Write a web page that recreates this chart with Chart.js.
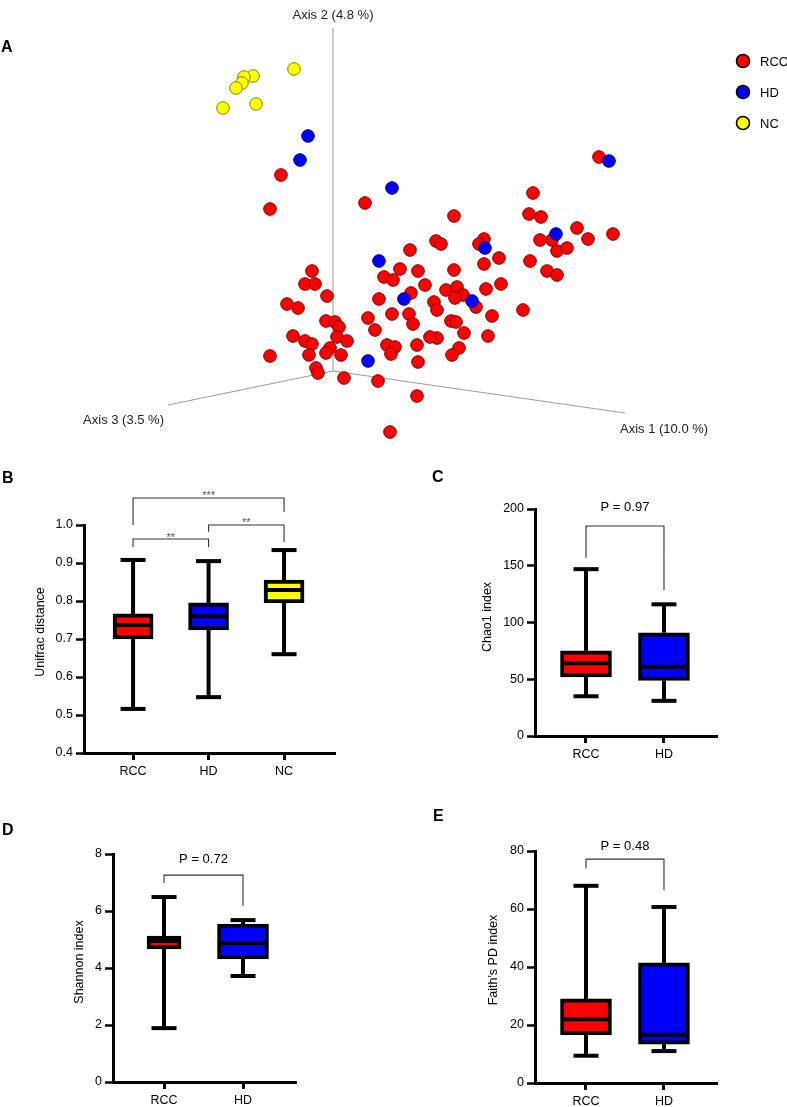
<!DOCTYPE html>
<html><head><meta charset="utf-8">
<script src="https://cdn.jsdelivr.net/npm/chart.js@4.4.0/dist/chart.umd.min.js"></script>
<style>
html,body{margin:0;padding:0;background:#fff;}
#wrap{position:relative;width:787px;height:1107px;overflow:hidden;font-family:"Liberation Sans",Arial,sans-serif;}
canvas{position:absolute;}
.lbl{position:absolute;font-weight:bold;font-size:16px;line-height:16px;color:#000;font-family:"Liberation Sans",Arial,sans-serif;}
</style></head><body>
<div id="wrap">
<canvas id="cA" width="787" height="450" style="left:0;top:0"></canvas>
<canvas id="cB" width="400" height="330" style="left:0;top:450px"></canvas>
<canvas id="cC" width="367" height="330" style="left:420px;top:450px"></canvas>
<canvas id="cD" width="400" height="327" style="left:0;top:780px"></canvas>
<canvas id="cE" width="367" height="327" style="left:420px;top:780px"></canvas>
<div class="lbl" style="left:1px;top:39px">A</div>
<div class="lbl" style="left:2px;top:470px">B</div>
<div class="lbl" style="left:432px;top:469px">C</div>
<div class="lbl" style="left:2px;top:822px">D</div>
<div class="lbl" style="left:433px;top:808px">E</div>
</div>
<script>
// ---------- Panel A: PCoA (projected coordinates) ----------
const groups = ['RCC', 'HD', 'NC'];
const rccX = [-52,-63,32,266,200,196,208,244,255,280,207,219,224,234,121,103,108,151,146,77,166,151,197,214,224,121,153,168,113,124,130,122,143,101,104,190,159,118,123,131,155,104,97,67,85,51,60,92,78,46,59,76,80,54,62,58,84,85,126,119,45,84,57,-21,-28,-18,-6,-46,-35,-7,2,6,35,42,4,14,-40,-28,-21,-24,-3,-7,8,-63,-17,-15,11];
const rccY = [196,162,168,214,178,157,154,143,132,137,131,131,120,123,155,130,127,132,127,121,113,107,110,100,96,101,82,87,81,84,76,73,64,69,61,61,55,50,49,38,35,33,34,102,100,94,91,86,78,72,57,57,47,26,24,17,26,9,23,16,-10,-25,-61,100,87,87,75,67,63,50,49,44,53,41,34,30,35,30,27,16,23,18,16,15,3,-2,-7];
const hdX = [-25,-33,59,276,223,152,46,71,139,35];
const hdY = [235,211,183,210,137,123,110,72,70,10];
const ncX = [-39,-80,-89,-91,-97,-77,-110];
const ncY = [302,295,294,288,283,267,263];
const axisNames = ['Axis 1 (10.0 %)', 'Axis 2 (4.8 %)', 'Axis 3 (3.5 %)'];
const axis1End = [292, -42];
const axis2End = [0, 343];
const axis3End = [-165, -34];

// ---------- Panel B: Unifrac distance ----------
const bCats = ['RCC', 'HD', 'NC'];
const bMin = [0.516, 0.547, 0.660];
const bQ1  = [0.700, 0.724, 0.795];
const bMed = [0.737, 0.760, 0.829];
const bQ3  = [0.766, 0.795, 0.855];
const bMax = [0.908, 0.905, 0.934];
const bBrFrom = [0, 1, 0];
const bBrTo   = [1, 2, 2];
const bBrY    = [0.963, 1.000, 1.071];
const bBrLeftEnd  = [0.942, 0.982, 1.000];
const bBrRightEnd = [0.942, 0.955, 1.034];
const bBrText = ['**', '**', '***'];
const bBrTextY = [0.975, 1.012, 1.083];

// ---------- Panel C: Chao1 ----------
const cCats = ['RCC', 'HD'];
const cMin = [35, 31];
const cQ1  = [52, 49];
const cMed = [64, 61];
const cQ3  = [75, 91];
const cMax = [147, 116];
const cBrFrom = [0], cBrTo = [1], cBrY = [185], cBrLeftEnd = [157], cBrRightEnd = [128.6];
const cBrText = ['P = 0.97'], cBrTextY = [201];

// ---------- Panel D: Shannon ----------
const dCats = ['RCC', 'HD'];
const dMin = [1.89, 3.72];
const dQ1  = [4.67, 4.32];
const dMed = [4.95, 4.88];
const dQ3  = [5.12, 5.54];
const dMax = [6.49, 5.68];
const dBrFrom = [0], dBrTo = [1], dBrY = [7.26], dBrLeftEnd = [6.98], dBrRightEnd = [6.18];
const dBrText = ['P = 0.72'], dBrTextY = [7.82];

// ---------- Panel E: Faith's PD ----------
const eCats = ['RCC', 'HD'];
const eMin = [9.4, 11.0];
const eQ1  = [16.6, 13.4];
const eMed = [22.0, 16.6];
const eQ3  = [29.0, 41.4];
const eMax = [68.0, 60.7];
const eBrFrom = [0], eBrTo = [1], eBrY = [77.2], eBrLeftEnd = [74], eBrRightEnd = [66.5];
const eBrText = ['P = 0.48'], eBrTextY = [81.6];

const FONT = '"Liberation Sans", Arial, sans-serif';
Chart.defaults.font.family = FONT;
Chart.defaults.color = '#000';

// ================= Panel A =================
const pts = (xs, ys) => xs.map((x, i) => ({x, y: ys[i]}));
const axisLine = (end) => ({
  type: 'line', data: [{x: 0, y: 0}, {x: end[0], y: end[1]}],
  borderColor: '#9a9a9a', borderWidth: 1, pointRadius: 0, order: 10, fill: false
});
const groupColors = ['#ff0000', '#0000ff', '#ffff00'];
const groupBorders = ['#7a0000', '#00007a', '#7d7d00'];

const pcoaExtras = {
  id: 'pcoaExtras',
  afterDraw(chart) {
    const {ctx, scales: {x, y}} = chart;
    ctx.save();
    ctx.font = '13px ' + FONT;
    ctx.fillStyle = '#222';
    ctx.textAlign = 'center'; ctx.textBaseline = 'middle';
    ctx.fillText(axisNames[1], x.getPixelForValue(axis2End[0]), y.getPixelForValue(axis2End[1]) - 13);
    ctx.textAlign = 'right';
    ctx.fillText(axisNames[2], x.getPixelForValue(axis3End[0]) - 4, y.getPixelForValue(axis3End[1]) + 15);
    ctx.textAlign = 'left';
    ctx.fillText(axisNames[0], x.getPixelForValue(axis1End[0]) - 5, y.getPixelForValue(axis1End[1]) + 16);
    groups.forEach((g, i) => {
      const cy = 61 + i * 31;
      ctx.beginPath();
      ctx.arc(743, cy, 6.5, 0, Math.PI * 2);
      ctx.fillStyle = groupColors[i];
      ctx.fill();
      ctx.lineWidth = 1.6; ctx.strokeStyle = '#000';
      ctx.stroke();
      ctx.fillStyle = '#000';
      ctx.textAlign = 'left';
      ctx.fillText(g, 760, cy + 1);
    });
    ctx.restore();
  }
};

new Chart(document.getElementById('cA'), {
  type: 'scatter',
  data: {
    datasets: [
      {label: 'NC', data: pts(ncX, ncY), backgroundColor: groupColors[2], borderColor: groupBorders[2], borderWidth: 1, pointRadius: 6.3, order: 3},
      {label: 'HD', data: pts(hdX, hdY), backgroundColor: groupColors[1], borderColor: groupBorders[1], borderWidth: 1, pointRadius: 6.3, order: 1},
      {label: 'RCC', data: pts(rccX, rccY), backgroundColor: groupColors[0], borderColor: groupBorders[0], borderWidth: 1, pointRadius: 6.3, order: 2},
      axisLine(axis1End), axisLine(axis2End), axisLine(axis3End)
    ]
  },
  options: {
    responsive: false, animation: false, events: [],
    layout: {padding: 0, autoPadding: false},
    plugins: {legend: {display: false}, tooltip: {enabled: false}},
    scales: {
      x: {type: 'linear', min: -333, max: 454, display: false},
      y: {type: 'linear', min: -79, max: 371, display: false}
    }
  },
  plugins: [pcoaExtras]
});

// ================= Box plots =================
function boxChart(id, c) {
  const datasets = c.cats.map((cat, i) => ({
    type: 'bar',
    data: [{x: i, y: [c.q1[i], c.q3[i]]}],
    backgroundColor: c.colors[i],
    borderColor: '#000', borderWidth: 4, borderSkipped: false,
    barThickness: c.boxW[i], grouped: false
  }));
  const extras = {
    id: 'boxExtras',
    afterDatasetsDraw(chart) {
      const {ctx, scales: {x, y}} = chart;
      const line = (x1, y1, x2, y2) => { ctx.beginPath(); ctx.moveTo(x1, y1); ctx.lineTo(x2, y2); ctx.stroke(); };
      ctx.save();
      ctx.strokeStyle = '#000'; ctx.lineCap = 'butt';
      c.cats.forEach((cat, i) => {
        const px = x.getPixelForValue(i);
        const half = c.boxW[i] / 2, cap = 12.5;
        const yMax = y.getPixelForValue(c.max[i]), yMin = y.getPixelForValue(c.min[i]);
        const yQ1 = y.getPixelForValue(c.q1[i]), yQ3 = y.getPixelForValue(c.q3[i]);
        const yMed = y.getPixelForValue(c.med[i]);
        ctx.lineWidth = 4;
        line(px, yQ3, px, yMax);
        line(px, yQ1, px, yMin);
        line(px - cap, yMax, px + cap, yMax);
        line(px - cap, yMin, px + cap, yMin);
        line(px - half + 2, yMed, px + half - 2, yMed);
      });
      ctx.lineWidth = 1.1; ctx.strokeStyle = '#333';
      c.brFrom.forEach((f, k) => {
        const x1 = x.getPixelForValue(f), x2 = x.getPixelForValue(c.brTo[k]);
        const yb = y.getPixelForValue(c.brY[k]);
        ctx.beginPath();
        ctx.moveTo(x1, y.getPixelForValue(c.brLeftEnd[k]));
        ctx.lineTo(x1, yb); ctx.lineTo(x2, yb);
        ctx.lineTo(x2, y.getPixelForValue(c.brRightEnd[k]));
        ctx.stroke();
        const star = c.brText[k].startsWith('*');
        ctx.font = (star ? '11px ' : '13px ') + FONT;
        ctx.fillStyle = star ? '#555' : '#000';
        ctx.textAlign = 'center'; ctx.textBaseline = 'middle';
        ctx.fillText(c.brText[k], (x1 + x2) / 2, y.getPixelForValue(c.brTextY[k]) + (star ? 3 : 0));
      });
      ctx.save();
      ctx.translate(c.titleX, c.titleY);
      ctx.rotate(-Math.PI / 2);
      ctx.font = '12.5px ' + FONT; ctx.fillStyle = '#000';
      ctx.textAlign = 'center'; ctx.textBaseline = 'middle';
      ctx.fillText(c.title, 0, 0);
      ctx.restore();
      ctx.restore();
    }
  };
  new Chart(document.getElementById(id), {
    type: 'bar',
    data: {datasets},
    options: {
      responsive: false, animation: false, events: [],
      layout: {padding: {top: c.padTop, right: c.padRight, left: 0, bottom: 0}},
      plugins: {legend: {display: false}, tooltip: {enabled: false}},
      scales: {
        x: {
          type: 'linear', min: c.xMin, max: c.xMax, offset: false,
          afterBuildTicks: s => { s.ticks = c.cats.map((_, i) => ({value: i})); },
          afterFit: s => { s.height = c.xH; },
          ticks: {callback: v => c.cats[v] ?? '', font: {size: 12.5}, color: '#000', padding: 4, autoSkip: false, maxRotation: 0},
          grid: {offset: false, drawOnChartArea: false, drawTicks: true, tickLength: 7, tickWidth: 3, tickColor: '#000'},
          border: {display: true, color: '#000', width: 3}
        },
        y: {
          type: 'linear', min: c.yMin, max: c.yMax,
          afterFit: s => { s.width = c.yW; },
          ticks: {stepSize: c.step, callback: v => v.toFixed(c.dec), font: {size: 12.5}, color: '#000', padding: 3},
          grid: {offset: false, drawOnChartArea: false, drawTicks: true, tickLength: 8, tickWidth: 2.5, tickColor: '#000'},
          border: {display: true, color: '#000', width: 3}
        }
      }
    },
    plugins: [extras]
  });
}

boxChart('cB', {
  cats: bCats, min: bMin, q1: bQ1, med: bMed, q3: bQ3, max: bMax,
  brFrom: bBrFrom, brTo: bBrTo, brY: bBrY, brLeftEnd: bBrLeftEnd, brRightEnd: bBrRightEnd, brText: bBrText, brTextY: bBrTextY,
  colors: ['#ff0000', '#0000ff', '#ffff00'], boxW: [40, 40, 40],
  xMin: -0.65, xMax: 2.675, yMin: 0.4, yMax: 1.0, step: 0.1, dec: 1,
  padTop: 75, padRight: 65, yW: 84, xH: 27,
  title: 'Unifrac distance', titleX: 41, titleY: 182
});
boxChart('cC', {
  cats: cCats, min: cMin, q1: cQ1, med: cMed, q3: cQ3, max: cMax,
  brFrom: cBrFrom, brTo: cBrTo, brY: cBrY, brLeftEnd: cBrLeftEnd, brRightEnd: cBrRightEnd, brText: cBrText, brTextY: cBrTextY,
  colors: ['#ff0000', '#0000ff'], boxW: [51, 51],
  xMin: -0.654, xMax: 1.68, yMin: 0, yMax: 200, step: 50, dec: 0,
  padTop: 59, padRight: 70, yW: 115, xH: 44,
  title: 'Chao1 index', titleX: 68, titleY: 167
});
boxChart('cD', {
  cats: dCats, min: dMin, q1: dQ1, med: dMed, q3: dQ3, max: dMax,
  brFrom: dBrFrom, brTo: dBrTo, brY: dBrY, brLeftEnd: dBrLeftEnd, brRightEnd: dBrRightEnd, brText: dBrText, brTextY: dBrTextY,
  colors: ['#ff0000', '#0000ff'], boxW: [34, 51],
  xMin: -0.646, xMax: 1.671, yMin: 0, yMax: 8, step: 2, dec: 0,
  padTop: 74, padRight: 104, yW: 113, xH: 25,
  title: 'Shannon index', titleX: 80, titleY: 182
});
boxChart('cE', {
  cats: eCats, min: eMin, q1: eQ1, med: eMed, q3: eQ3, max: eMax,
  brFrom: eBrFrom, brTo: eBrTo, brY: eBrY, brLeftEnd: eBrLeftEnd, brRightEnd: eBrRightEnd, brText: eBrText, brTextY: eBrTextY,
  colors: ['#ff0000', '#0000ff'], boxW: [51, 51],
  xMin: -0.654, xMax: 1.68, yMin: 0, yMax: 80, step: 20, dec: 0,
  padTop: 71, padRight: 70, yW: 115, xH: 24,
  title: "Faith's PD index", titleX: 74, titleY: 180
});
</script>
</body></html>
